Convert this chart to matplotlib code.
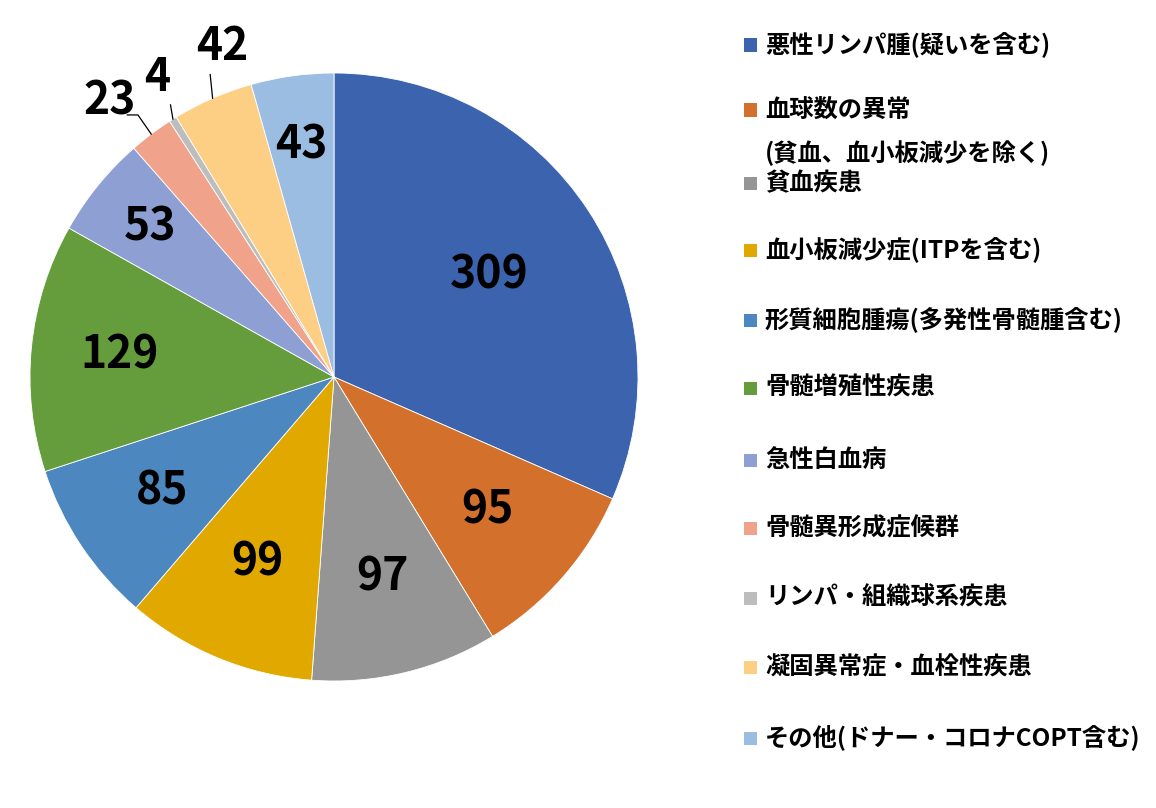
import matplotlib
matplotlib.use("Agg")
import matplotlib.pyplot as plt
import numpy as np
from matplotlib.patches import Rectangle

categories = [
    "悪性リンパ腫(疑いを含む)",
    "血球数の異常\n(貧血、血小板減少を除く)",
    "貧血疾患",
    "血小板減少症(ITPを含む)",
    "形質細胞腫瘍(多発性骨髄腫含む)",
    "骨髄増殖性疾患",
    "急性白血病",
    "骨髄異形成症候群",
    "リンパ・組織球系疾患",
    "凝固異常症・血栓性疾患",
    "その他(ドナー・コロナCOPT含む)",
]
values = [309, 95, 97, 99, 85, 129, 53, 23, 4, 42, 43]
colors = ["#3C63AE", "#D2702C", "#959595", "#E1A800", "#4C87BF", "#659C3C",
          "#8EA0D3", "#F0A38A", "#BDBDBD", "#FDCF85", "#9BBDE2"]

# label radii (fraction of radius) for inside labels; None -> outside label
label_r = [0.61, 0.67, 0.68, 0.66, 0.68, 0.71, 0.78, None, None, None, 0.77]
# outside label text positions (data coords) and elbow points
outside = {
    7: ((-0.737, 0.905), (-0.645, 0.862)),
    8: ((-0.582, 0.985), None),
    9: ((-0.368, 1.085), None),
}

W, H = 1156, 808
fig = plt.figure(figsize=(W / 100, H / 100), dpi=100)
cx, cy, R = 334, 377, 304
ax = fig.add_axes([(cx - R) / W, (H - cy - R) / H, 2 * R / W, 2 * R / H])
wedges, _ = ax.pie(values, colors=colors, startangle=90, counterclock=False,
                   radius=1.0, wedgeprops=dict(linewidth=0.6, edgecolor="white"))
ax.set_xlim(-1, 1)
ax.set_ylim(-1, 1)
ax.set_aspect("auto")
ax.axis("off")

numfont = dict(family=["Noto Sans CJK JP"], fontweight="bold", fontsize=32, color="black")
for i, w in enumerate(wedges):
    ang = np.deg2rad((w.theta1 + w.theta2) / 2)
    if label_r[i] is not None:
        r = label_r[i]
        ax.text(r * np.cos(ang), r * np.sin(ang), str(values[i]), ha="center", va="center",
                clip_on=False, **numfont)
    else:
        (tx, ty), elbow = outside[i]
        px, py = np.cos(ang), np.sin(ang)
        ax.text(tx, ty, str(values[i]), ha="center", va="center", clip_on=False, **numfont)
        if elbow is not None:
            ex, ey = elbow
            ax.plot([px, ex, ex - 0.035], [py, ey, ey], color="black", lw=0.9, clip_on=False)
        else:
            ax.plot([px, px - 0.008], [py, ty - 0.09], color="black", lw=0.9, clip_on=False)

# legend (manual)
leg_y = [45, 110, 183, 250, 320, 388, 460, 528, 598, 667, 738]
legfont = dict(family=["Noto Sans CJK JP"], fontweight="bold", fontsize=17.5, color="black")
for i, lab in enumerate(categories):
    y = leg_y[i]
    fig.patches.append(Rectangle(((744) / W, (H - y - 6.5) / H), 13 / W, 13 / H,
                                 transform=fig.transFigure, color=colors[i], lw=0))
    lines = lab.split("\n")
    for j, ln in enumerate(lines):
        fig.text(765 / W, (H - (y + 43 * j)) / H, ln, ha="left", va="center", **legfont)

fig.savefig("out.png", dpi=100, facecolor="white")
